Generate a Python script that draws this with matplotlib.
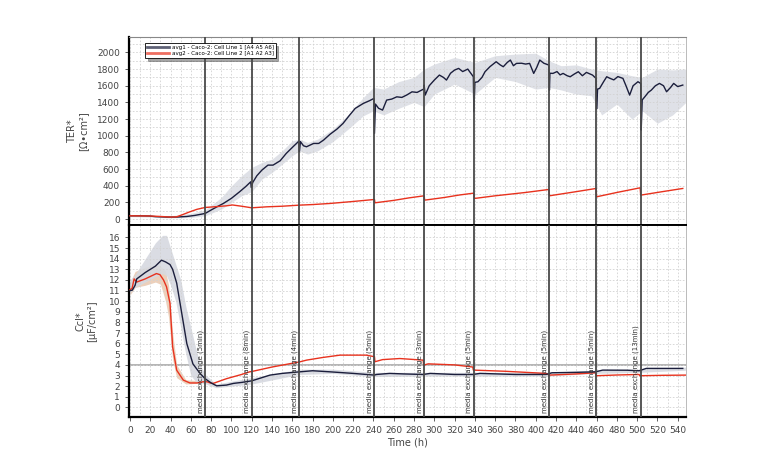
import matplotlib
matplotlib.use("Agg")
import matplotlib.pyplot as plt
from matplotlib.ticker import MultipleLocator, FixedLocator

# ---- data ----
ter1_t = [0, 10, 19, 25, 36, 46, 56, 64, 70, 74, 80, 86, 92, 100, 108, 114, 119, 119.5, 121, 125, 130,
          136, 141, 148, 154, 160, 166.5, 167, 168, 171, 174, 181, 186, 191, 197, 204, 210, 216, 222, 230,
          236, 240.5, 241, 242, 245, 249, 253, 258, 263, 268, 273, 278, 283, 289.5, 290, 291, 295, 300,
          305, 309, 312, 316, 320, 324, 328, 333, 338.5, 339, 340, 343, 347, 350, 355, 361, 365, 368,
          372, 375, 378, 381, 386, 390, 394, 398, 401, 404, 408, 413, 413.5, 414, 417, 421, 424, 427,
          431, 434, 438, 442, 446, 450, 456, 459.5, 460, 461, 463, 467, 470, 473, 477, 481, 486, 489,
          492.6, 496, 500.8, 503.5, 504, 505, 507.6, 511, 514, 518, 522, 526, 529, 533, 536, 540, 545]
ter1_v = [40, 40, 38, 30, 25, 25, 32, 45, 58, 68, 110, 150, 188, 250, 328, 390, 448, 380, 440, 520, 588,
          648, 648, 700, 788, 860, 936, 808, 930, 880, 868, 908, 908, 950, 1016, 1080, 1148, 1240, 1328, 1388,
          1420, 1448, 1028, 1380, 1330, 1308, 1428, 1440, 1467, 1460, 1490, 1527, 1520, 1560, 1608, 1488, 1600, 1668,
          1728, 1700, 1668, 1750, 1788, 1808, 1770, 1800, 1708, 1288, 1640, 1648, 1700, 1768, 1830, 1888, 1850, 1828,
          1880, 1908, 1840, 1868, 1870, 1860, 1868, 1748, 1820, 1908, 1870, 1848, 1548, 1750, 1748, 1770, 1730, 1748,
          1720, 1708, 1740, 1768, 1720, 1760, 1728, 1688, 1320, 1560, 1568, 1650, 1708, 1690, 1670, 1710, 1688, 1600,
          1488, 1600, 1648, 1628, 1068, 1430, 1468, 1520, 1548, 1600, 1628, 1600, 1528, 1580, 1628, 1590, 1608]

ter1_band_t = [0, 20, 40, 60, 74, 90, 100, 110, 120, 130, 140, 150, 160, 167, 175, 185, 200, 215, 230,
               240, 250, 265, 280, 290, 300, 320, 340, 360, 380, 400, 413, 425, 440, 455, 465, 480, 495,
               505, 520, 535, 548]
ter1_lo = [30, 25, 15, 20, 40, 120, 200, 280, 330, 480, 560, 660, 760, 820, 780, 820, 930, 1080, 1240,
           1300, 1250, 1330, 1400, 1350, 1500, 1620, 1500, 1700, 1650, 1560, 1580, 1550, 1500, 1480, 1250,
           1380, 1200, 1300, 1150, 1250, 1400]
ter1_hi = [50, 45, 40, 70, 110, 260, 400, 520, 620, 680, 720, 820, 940, 960, 920, 960, 1080, 1250, 1460,
           1580, 1560, 1650, 1700, 1800, 1860, 1940, 1880, 1960, 1980, 1990, 1900, 1840, 1850, 1800, 1780,
           1760, 1720, 1700, 1800, 1790, 1800]

ter2_t = [0, 19, 30, 40, 46, 52, 59, 66, 74, 85, 95, 101, 110, 120, 135, 150, 167, 180, 197, 220,
          241, 241.5, 260, 275, 290, 290.5, 310, 325, 339, 339.5, 360, 390, 413, 413.5, 440, 459.5, 460,
          480, 503, 503.5, 525, 545]
ter2_v = [40, 38, 32, 25, 28, 55, 88, 118, 140, 150, 160, 170, 155, 136, 148, 155, 168, 175, 188, 212,
          236, 196, 225, 255, 280, 228, 260, 290, 312, 248, 280, 320, 356, 280, 330, 368, 268, 320, 376,
          288, 330, 368]

cc1_t = [0, 2.3, 5, 6.6, 15, 25, 31, 35, 39.4, 42, 46, 51, 56, 62, 69, 74, 80, 85.4, 95, 102, 110, 120,
         130, 138, 150, 167.5, 180, 197, 220, 241, 243, 256, 270, 289, 296, 320, 338, 345, 380, 410, 416,
         440, 459, 466, 490, 502, 509, 530, 545]
cc1_v = [11.0, 11.04, 11.5, 12.1, 12.7, 13.3, 13.86, 13.7, 13.45, 13.0, 11.7, 8.85, 6.0, 4.1, 3.2, 2.7,
         2.3, 2.03, 2.1, 2.26, 2.35, 2.5, 2.8, 3.04, 3.2, 3.35, 3.45, 3.35, 3.2, 3.04, 3.1, 3.2, 3.15, 3.1,
         3.2, 3.1, 3.1, 3.2, 3.1, 3.1, 3.26, 3.3, 3.35, 3.51, 3.5, 3.45, 3.67, 3.67, 3.67]

cc2_t = [0, 2, 4, 6.6, 15, 26, 29.5, 33, 36, 39.4, 42, 46, 52.5, 59, 66, 72, 76, 79, 82, 95, 110, 118,
         121, 140, 167.5, 174, 190, 207, 233, 241, 241.5, 249, 266, 289, 289.5, 294, 320, 338, 338.5, 370,
         410, 413.5, 440, 459, 459.5, 480, 502, 502.5, 525, 548]
cc2_v = [11.1, 11.2, 12.1, 11.8, 12.1, 12.6, 12.5, 12.0, 11.35, 9.8, 5.7, 3.5, 2.57, 2.3, 2.3, 2.41, 2.41,
         2.3, 2.26, 2.7, 3.1, 3.35, 3.4, 3.8, 4.29, 4.45, 4.7, 4.92, 4.92, 4.77, 4.3, 4.5, 4.6, 4.45, 3.98,
         4.1, 4.0, 3.8, 3.51, 3.4, 3.2, 3.04, 3.15, 3.26, 2.98, 3.05, 3.1, 2.98, 3.02, 3.04]

cc1_band_t = [0, 5, 15, 25, 32, 36, 40, 45, 50, 55, 60, 65, 70, 75, 85, 120, 167, 200, 240, 300, 340,
              410, 460, 502, 548]
cc1_lo = [10.8, 11.3, 11.8, 12.3, 12.6, 12.4, 11.5, 10.0, 7.5, 5.0, 3.0, 2.4, 2.3, 2.2, 1.85, 2.2, 3.1,
          3.2, 2.9, 2.95, 2.95, 2.95, 3.2, 3.3, 3.5]
cc1_hi = [12.0, 12.5, 14.0, 15.5, 16.2, 16.2, 15.0, 13.5, 12.0, 9.5, 7.5, 5.5, 3.8, 3.0, 2.2, 2.8, 3.6,
          3.6, 3.3, 3.3, 3.3, 3.3, 3.5, 3.6, 3.8]

cc2_band_t = [0, 5, 15, 25, 30, 35, 38, 42, 46, 55, 70]
cc2_lo = [10.6, 11.3, 11.5, 11.8, 11.6, 10.0, 8.5, 4.5, 2.8, 2.2, 2.3]
cc2_hi = [11.8, 12.8, 13.2, 13.4, 13.3, 12.8, 11.5, 7.0, 4.0, 2.6, 2.5]

events = [74, 120, 167, 241, 290, 339, 413.5, 459.5, 503.5]
event_labels = ["media exchange (5min)", "media exchange (8min)", "media exchange (4min)",
                "media exchange (5min)", "media exchange (3min)", "media exchange (5min)",
                "media exchange (5min)", "media exchange (5min)", "media exchange (13min)"]

legend_labels = ["avg1 - Caco-2: Cell Line 1 [A4 A5 A6]", "avg2 - Caco-2: Cell Line 2 [A1 A2 A3]"]

navy = "#1b1e3c"
red = "#e8321e"
tick_col = "#444444"

fig = plt.figure(figsize=(7.68, 4.75), dpi=100)
ax1 = fig.add_axes([0.168, 0.526, 0.725, 0.396])
ax2 = fig.add_axes([0.168, 0.122, 0.725, 0.404], sharex=ax1)

# top: TER
ax1.fill_between(ter1_band_t, ter1_lo, ter1_hi, color="#dfe1e7", lw=0, zorder=1)
l1, = ax1.plot(ter1_t, ter1_v, color=navy, lw=1.0, zorder=3)
l2, = ax1.plot(ter2_t, ter2_v, color=red, lw=1.0, zorder=3)
ax1.set_ylim(-72, 2184)
ax1.yaxis.set_major_locator(MultipleLocator(200))
ax1.yaxis.set_minor_locator(MultipleLocator(100))
ax1.set_ylabel("TER*\n[Ω•cm²]", fontsize=7, color=tick_col, labelpad=6)

# bottom: Ccl
ax2.fill_between(cc2_band_t, cc2_lo, cc2_hi, color="#ecd0bb", lw=0, zorder=1)
ax2.fill_between(cc1_band_t, cc1_lo, cc1_hi, color="#d6d9e0", lw=0, alpha=0.9, zorder=1)
ax2.plot(cc2_t, cc2_v, color=red, lw=1.0, zorder=3)
ax2.plot(cc1_t, cc1_v, color=navy, lw=1.0, zorder=3)
ax2.axhline(4, color="#a8a8a8", lw=1.2, zorder=0.5)
ax2.set_ylim(-0.91, 17.16)
ax2.yaxis.set_major_locator(FixedLocator(range(0, 17)))
ax2.set_ylabel("Ccl*\n[µF/cm²]", fontsize=7, color=tick_col, labelpad=8)
ax2.set_xlabel("Time (h)", fontsize=7, color=tick_col, labelpad=2)

ax2.set_xlim(-1, 548)
ax2.xaxis.set_major_locator(MultipleLocator(20))
ax2.xaxis.set_minor_locator(MultipleLocator(10))

for ax in (ax1, ax2):
    ax.grid(True, which="both", color="#d2d2d2", ls=(0, (2, 2)), lw=0.6, zorder=0)
    ax.tick_params(which="both", labelsize=6.5, colors=tick_col, length=3, width=0.6)
    ax.tick_params(which="minor", length=0)
    ax.spines["left"].set_linewidth(1.6)
    ax.spines["right"].set_color("#b0b0b0")
    ax.spines["right"].set_linewidth(0.6)
    for ev in events:
        ax.axvline(ev, color="#4a4a4a", lw=1.3, zorder=4)
ax1.spines["top"].set_color("#888888")
ax1.spines["top"].set_linewidth(0.8)
ax1.spines["bottom"].set_linewidth(1.4)
ax2.spines["top"].set_linewidth(1.4)
ax2.spines["bottom"].set_linewidth(1.6)
ax1.tick_params(axis="x", labelbottom=False, length=0)

for ev, lab in zip(events, event_labels):
    ax2.text(ev - 1.5, -0.55, lab, rotation=90, ha="right", va="bottom",
             fontsize=5, color="#333333", zorder=5)

leg = ax1.legend([l1, l2], legend_labels, loc="upper left", bbox_to_anchor=(0.029, 0.968),
                 fontsize=4.0, frameon=True, fancybox=False, shadow=True, edgecolor="black",
                 handlelength=4, borderpad=0.3, labelspacing=0.25, borderaxespad=0,
                 handletextpad=0.5)
leg.get_frame().set_linewidth(0.6)
for h in leg.legend_handles:
    h.set_linewidth(2)
    h.set_alpha(0.7)

fig.savefig("out.png", dpi=100)
